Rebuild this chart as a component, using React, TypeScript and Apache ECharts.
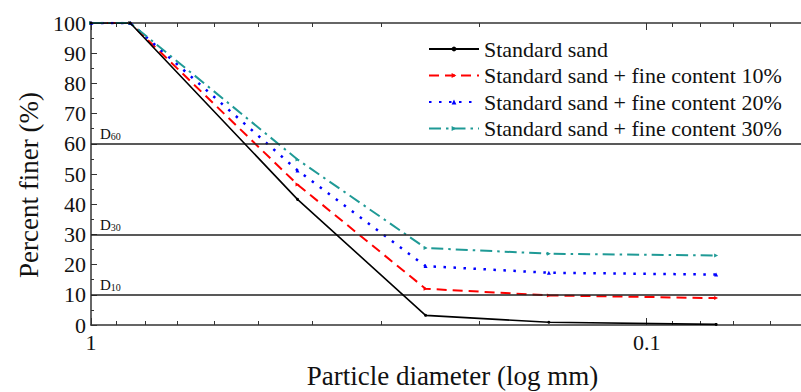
import React, { useEffect, useRef } from "react";
import * as echarts from "echarts";

const diameters = [1, 0.85, 0.425, 0.25, 0.15, 0.075];
const standardSand = [100, 100, 41.6, 3.2, 0.9, 0.2];
const fine10 = [100, 100, 46.5, 12.0, 9.8, 8.9];
const fine20 = [100, 100, 51.2, 19.5, 17.3, 16.7];
const fine30 = [100, 100, 54.8, 25.5, 23.6, 23.0];

const seriesNames = [
  "Standard sand",
  "Standard sand + fine content 10%",
  "Standard sand + fine content 20%",
  "Standard sand + fine content 30%",
];

const xMin = 0.05;
const xMax = 1;
const xMajorTicks = [1, 0.1];
const xMinorTicks = [0.9, 0.8, 0.7, 0.6, 0.5, 0.4, 0.3, 0.2, 0.09, 0.08, 0.07, 0.06];
const refLines = [
  { value: 60, sub: "60" },
  { value: 30, sub: "30" },
  { value: 10, sub: "10" },
];

const FONT = "Liberation Serif";
const FRAME = "#333";
const TXT = "#111";

export default function App() {
  const ref = useRef<HTMLDivElement>(null);
  useEffect(() => {
    const chart = echarts.init(ref.current!, null, { renderer: "svg" });
    const pts = (vals: number[]) => diameters.map((d, i) => [d, vals[i]]);
    const serif22 = { s: { fontFamily: FONT, fontSize: 22, color: TXT, lineHeight: 22 } };
    const xBase = {
      type: "log",
      logBase: 10,
      min: xMin,
      max: xMax,
      inverse: true,
      splitLine: { show: false },
    };
    const gridBox = { left: 91, top: 23, width: 723, height: 302, outerBoundsMode: "none", containLabel: false };
    const option: any = {
      animation: false,
      backgroundColor: "#fff",
      textStyle: { fontFamily: FONT },
      grid: [{ ...gridBox }, { ...gridBox }],
      legend: {
        orient: "vertical",
        left: 423,
        top: 33,
        itemWidth: 50,
        itemHeight: 6,
        itemGap: 4.5,
        formatter: (name: string) => `{s|${name}}`,
        textStyle: { fontFamily: FONT, fontSize: 22, color: TXT, lineHeight: 22, rich: serif22 },
        data: seriesNames,
      },
      xAxis: [
        {
          ...xBase,
          gridIndex: 0,
          position: "bottom",
          name: "Particle diameter (log mm)",
          nameLocation: "middle",
          nameGap: 36,
          nameTextStyle: { fontFamily: FONT, fontSize: 27, color: TXT, lineHeight: 27, padding: [1, 0, 0, 0] },
          axisLine: { show: true, lineStyle: { color: FRAME, width: 1.5 } },
          axisTick: { show: true, inside: true, length: 7, customValues: xMajorTicks, lineStyle: { color: FRAME } },
          axisLabel: {
            show: true,
            customValues: xMajorTicks,
            margin: 6,
            fontFamily: FONT,
            fontSize: 22,
            color: TXT,
            rich: serif22,
            formatter: (v: number) => (v >= 0.99 ? "{s|1}" : "{s|0.1}"),
          },
        },
        {
          ...xBase,
          gridIndex: 0,
          position: "top",
          axisLine: { show: true, lineStyle: { color: FRAME, width: 1.5 } },
          axisTick: { show: true, inside: true, length: 4, customValues: xMinorTicks, lineStyle: { color: FRAME } },
          axisLabel: { show: false },
        },
        {
          ...xBase,
          gridIndex: 1,
          position: "bottom",
          axisLine: { show: false },
          axisTick: { show: true, inside: true, length: 4, customValues: xMinorTicks, lineStyle: { color: FRAME } },
          axisLabel: { show: false },
        },
        {
          ...xBase,
          gridIndex: 1,
          position: "top",
          axisLine: { show: false },
          axisTick: { show: true, inside: true, length: 7, customValues: xMajorTicks, lineStyle: { color: FRAME } },
          axisLabel: { show: false },
        },
      ],
      yAxis: [
        {
          type: "value",
          gridIndex: 0,
          min: 0,
          max: 100,
          interval: 10,
          name: "Percent finer (%)",
          nameLocation: "middle",
          nameGap: 48,
          nameTextStyle: { fontFamily: FONT, fontSize: 27, color: TXT, padding: [0, 22, 0, 0] },
          splitLine: { show: false },
          axisLine: { show: true, lineStyle: { color: FRAME, width: 1.5 } },
          axisTick: { show: true, inside: true, length: 6, lineStyle: { color: FRAME } },
          minorTick: { show: true, splitNumber: 2, length: 3, lineStyle: { color: FRAME } },
          axisLabel: {
            margin: 5,
            fontFamily: FONT,
            fontSize: 22,
            color: TXT,
            rich: serif22,
            formatter: (v: number) => `{s|${v}}`,
          },
        },
        {
          type: "value",
          gridIndex: 1,
          min: 0,
          max: 100,
          show: false,
        },
      ],
      series: [
        {
          name: seriesNames[0],
          type: "line",
          xAxisIndex: 0,
          yAxisIndex: 0,
          data: pts(standardSand),
          symbol: "circle",
          symbolSize: 3,
          itemStyle: { color: "#000" },
          lineStyle: { color: "#000", width: 1.6 },
          z: 5,
          markLine: {
            silent: true,
            symbol: ["none", "none"],
            lineStyle: { color: "#222", width: 1.5, type: "solid" },
            label: {
              show: true,
              position: "insideEndTop",
              distance: [9, 2],
              formatter: (p: any) => `{a|D}{b|${p.data.sub}}`,
              rich: {
                a: { fontFamily: FONT, fontSize: 15, color: TXT, lineHeight: 15, padding: [0, 0, 4, 0], verticalAlign: "top" },
                b: { fontFamily: FONT, fontSize: 10, color: TXT, lineHeight: 8, verticalAlign: "bottom" },
              },
            },
            data: refLines.map((r) => ({ yAxis: r.value, sub: r.sub })),
          },
        },
        {
          name: seriesNames[1],
          type: "line",
          data: pts(fine10),
          symbol: "triangle",
          symbolSize: 4,
          symbolRotate: -90,
          itemStyle: { color: "#ff0000" },
          lineStyle: { color: "#ff0000", width: 2, type: [10, 6] },
        },
        {
          name: seriesNames[2],
          type: "line",
          data: pts(fine20),
          symbol: "triangle",
          symbolSize: 4,
          itemStyle: { color: "#0000ff" },
          lineStyle: { color: "#0000ff", width: 2.5, type: [2.5, 7.5] },
        },
        {
          name: seriesNames[3],
          type: "line",
          data: pts(fine30),
          symbol: "triangle",
          symbolSize: 4,
          symbolRotate: -90,
          itemStyle: { color: "#1f9a96" },
          lineStyle: { color: "#1f9a96", width: 2, type: [12, 5, 2.5, 5] },
        },
      ],
    };
    chart.setOption(option);
    return () => chart.dispose();
  }, []);
  return <div ref={ref} style={{ width: 801, height: 392, position: "absolute", left: 0, top: 0 }} />;
}
